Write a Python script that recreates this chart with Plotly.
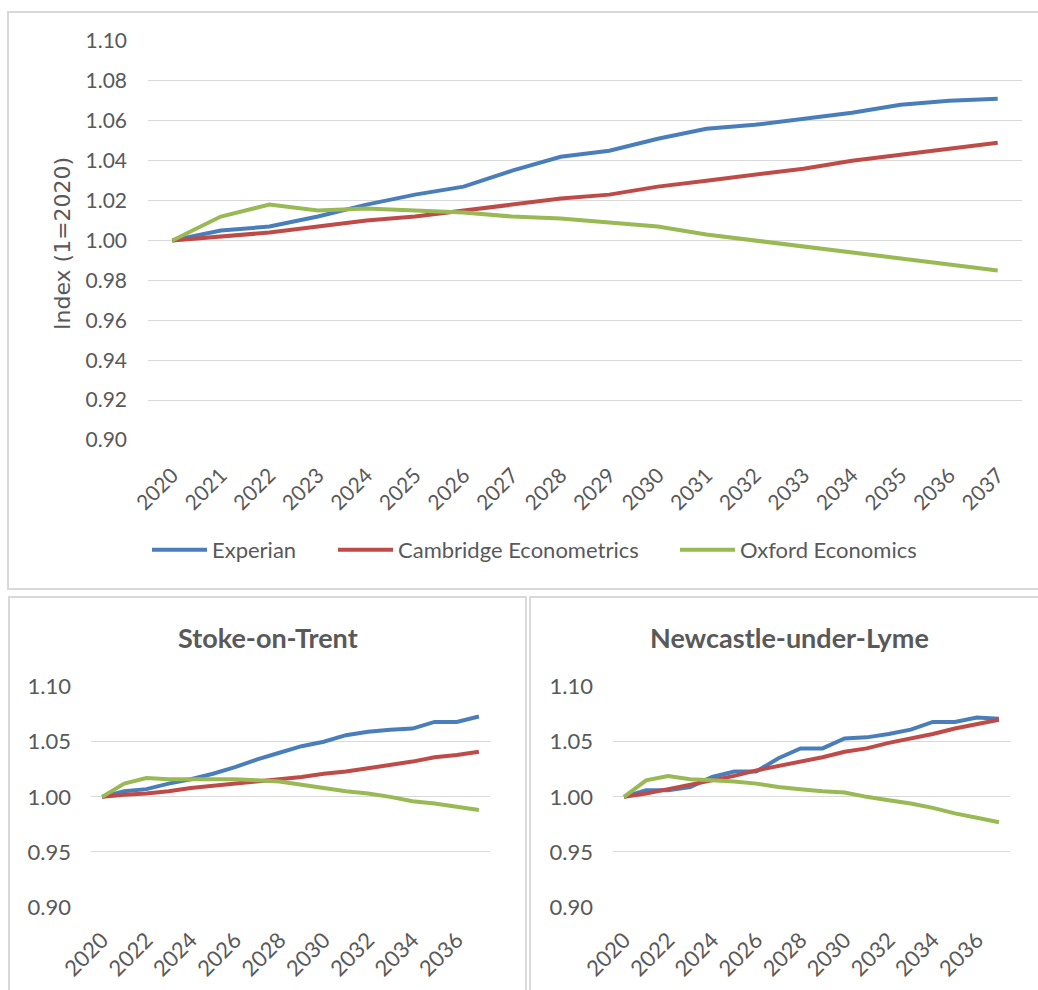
import plotly.graph_objects as go

# Years on the category axis
years = [str(y) for y in range(2020, 2038)]

# Overall index (1 = 2020)
experian_all = [1.000, 1.005, 1.007, 1.012, 1.018, 1.023, 1.027, 1.035, 1.042, 1.045,
                1.051, 1.056, 1.058, 1.061, 1.064, 1.068, 1.070, 1.071]
cambridge_all = [1.000, 1.002, 1.004, 1.007, 1.010, 1.012, 1.015, 1.018, 1.021, 1.023,
                 1.027, 1.030, 1.033, 1.036, 1.040, 1.043, 1.046, 1.049]
oxford_all = [1.000, 1.012, 1.018, 1.015, 1.016, 1.015, 1.014, 1.012, 1.011, 1.009,
              1.007, 1.003, 1.000, 0.997, 0.994, 0.991, 0.988, 0.985]

# Stoke-on-Trent
experian_stoke = [1.000, 1.005, 1.007, 1.012, 1.016, 1.021, 1.027, 1.034, 1.040, 1.046,
                  1.050, 1.056, 1.059, 1.061, 1.062, 1.068, 1.068, 1.073]
cambridge_stoke = [1.000, 1.002, 1.003, 1.005, 1.008, 1.010, 1.012, 1.014, 1.016, 1.018,
                   1.021, 1.023, 1.026, 1.029, 1.032, 1.036, 1.038, 1.041]
oxford_stoke = [1.000, 1.012, 1.017, 1.016, 1.016, 1.016, 1.016, 1.015, 1.014, 1.011,
                1.008, 1.005, 1.003, 1.000, 0.996, 0.994, 0.991, 0.988]

# Newcastle-under-Lyme
experian_newc = [1.000, 1.006, 1.006, 1.009, 1.018, 1.023, 1.023, 1.035, 1.044, 1.044,
                 1.053, 1.054, 1.057, 1.061, 1.068, 1.068, 1.072, 1.071]
cambridge_newc = [1.000, 1.003, 1.007, 1.011, 1.015, 1.019, 1.024, 1.028, 1.032, 1.036,
                  1.041, 1.044, 1.049, 1.053, 1.057, 1.062, 1.066, 1.070]
oxford_newc = [1.000, 1.015, 1.019, 1.016, 1.015, 1.014, 1.012, 1.009, 1.007, 1.005,
               1.004, 1.000, 0.997, 0.994, 0.990, 0.985, 0.981, 0.977]

series_names = ["Experian", "Cambridge Econometrics", "Oxford Economics"]
colors = ["#4a7ebb", "#be4b48", "#98b954"]

W, H = 1038, 990
FONT = "Lato, 'Open Sans', sans-serif"
TXT = "#595959"
GRID = "#d9d9d9"


def px_x(p):
    return p / W


def px_y(p):
    return 1 - p / H


fig = go.Figure()

legend_ids = ["legend", "legend2", "legend3"]
panels = [
    ("x", "y", [experian_all, cambridge_all, oxford_all], True),
    ("x2", "y2", [experian_stoke, cambridge_stoke, oxford_stoke], False),
    ("x3", "y3", [experian_newc, cambridge_newc, oxford_newc], False),
]
for xa, ya, data, show in panels:
    for name, vals, col, lg in zip(series_names, data, colors, legend_ids):
        fig.add_trace(go.Scatter(
            x=years, y=vals, name=name, mode="lines",
            line=dict(color=col, width=4),
            xaxis=xa, yaxis=ya, showlegend=show, legend=lg,
            hoverinfo="x+y+name",
        ))

yaxis_common = dict(
    showgrid=True, gridcolor=GRID, gridwidth=1.3, zeroline=False,
    showline=False, ticks="", tickformat=".2f",
    fixedrange=True, automargin=False, range=[0.90, 1.10], tick0=0.90,
)
xaxis_common = dict(
    type="category", showgrid=False, zeroline=False, showline=False,
    ticks="", tickangle=-45, fixedrange=True, automargin=False,
    range=[-0.5, len(years) - 0.5],
)
top_font = dict(family=FONT, size=21, color=TXT)
small_font = dict(family=FONT, size=22, color=TXT)

legend_common = dict(
    orientation="h", xanchor="left", yanchor="middle", y=px_y(550),
    font=dict(family=FONT, size=22, color=TXT),
    itemwidth=55, bgcolor="rgba(0,0,0,0)",
)

fig.update_layout(
    width=W, height=H,
    margin=dict(l=0, r=0, t=0, b=0, autoexpand=False),
    paper_bgcolor="white", plot_bgcolor="white",
    font=dict(family=FONT, color=TXT),
    xaxis=dict(xaxis_common, domain=[px_x(148), px_x(1022)], anchor="y",
               tickfont=top_font, ticklabelstandoff=18),
    yaxis=dict(yaxis_common, domain=[px_y(440), px_y(41)], anchor="x",
               dtick=0.02, tickfont=top_font, ticklabelstandoff=20),
    xaxis2=dict(xaxis_common, domain=[px_x(91), px_x(490)], anchor="y2",
                tickmode="array", tickvals=years[::2], tickfont=small_font,
                ticklabelstandoff=15),
    yaxis2=dict(yaxis_common, domain=[px_y(907), px_y(686.7)], anchor="x2",
                dtick=0.05, tickfont=small_font, ticklabelstandoff=19),
    xaxis3=dict(xaxis_common, domain=[px_x(613), px_x(1010)], anchor="y3",
                tickmode="array", tickvals=years[::2], tickfont=small_font,
                ticklabelstandoff=15),
    yaxis3=dict(yaxis_common, domain=[px_y(907), px_y(686.7)], anchor="x3",
                dtick=0.05, tickfont=small_font, ticklabelstandoff=19),
    legend=dict(legend_common, x=px_x(147)),
    legend2=dict(legend_common, x=px_x(333)),
    legend3=dict(legend_common, x=px_x(675)),
)

# Panel frames
frame = dict(type="rect", xref="paper", yref="paper",
             line=dict(color=GRID, width=2), fillcolor="rgba(0,0,0,0)", layer="below")
fig.add_shape(frame, x0=px_x(8), x1=px_x(1050), y0=px_y(589), y1=px_y(12))
fig.add_shape(frame, x0=px_x(9), x1=px_x(526), y0=px_y(1010), y1=px_y(597))
fig.add_shape(frame, x0=px_x(530), x1=px_x(1050), y0=px_y(1010), y1=px_y(597))

# Y-axis title of the overall panel
fig.add_annotation(
    text="Index (1=2020)", xref="paper", yref="paper",
    x=px_x(62), y=px_y(244), textangle=-90, xanchor="center", yanchor="middle",
    showarrow=False, font=dict(family="DejaVu Sans", size=22, color=TXT),
)

# Panel titles
for text, cx in [("Stoke-on-Trent", 267.5), ("Newcastle-under-Lyme", 789)]:
    fig.add_annotation(
        text=f"<b>{text}</b>", xref="paper", yref="paper",
        x=px_x(cx), y=px_y(637), xanchor="center", yanchor="middle",
        showarrow=False, font=dict(family=FONT, size=27, color=TXT),
    )

fig.write_html("out.html")
